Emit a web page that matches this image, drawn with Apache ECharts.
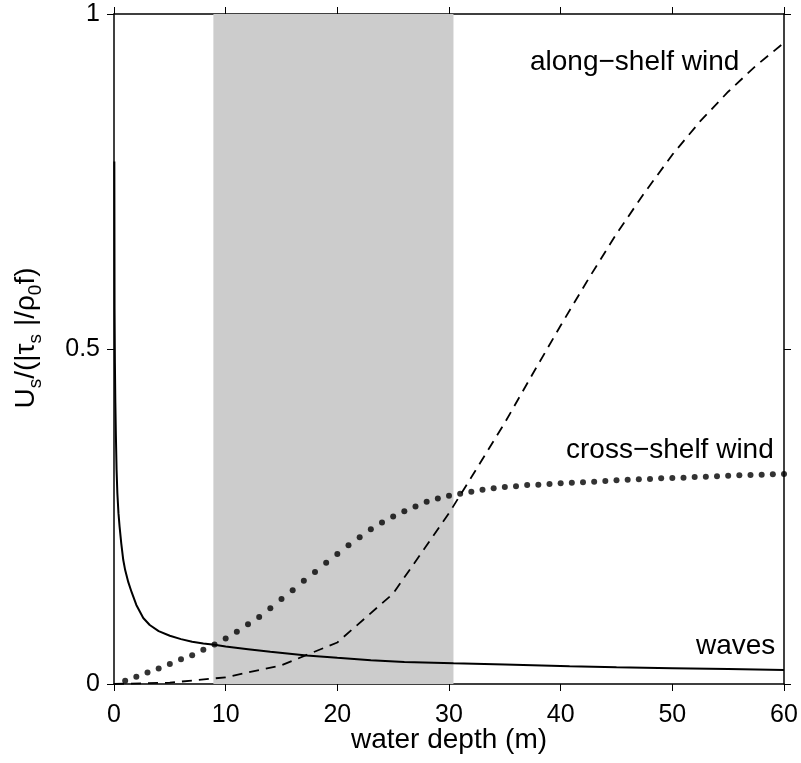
<!DOCTYPE html>
<html>
<head>
<meta charset="utf-8">
<script src="https://cdn.jsdelivr.net/npm/echarts@6/dist/echarts.min.js"></script>
<style>
html,body{margin:0;padding:0;background:#fff;}
#c{width:801px;height:763px;}
</style>
</head>
<body>
<div id="c"></div>
<script>
// ---- data ----
var xTicks = [0, 10, 20, 30, 40, 50, 60];
var yTicks = [0, 0.5, 1];
var shadeRange = [8.9, 30.4];

var wavesX = [0.03, 0.05, 0.08, 0.12, 0.17, 0.23, 0.3, 0.4, 0.5, 0.65, 0.83, 1.0, 1.28, 1.58, 2.0, 2.62, 3.2, 4.0, 5.0, 6.0, 7.0, 8.0, 9.0, 10, 12, 14, 17.25, 20, 23, 26, 30.4, 35, 40.8, 45, 50, 55, 60];
var wavesY = [0.78, 0.56, 0.48, 0.42, 0.37, 0.32, 0.285, 0.255, 0.235, 0.21, 0.185, 0.17, 0.152, 0.137, 0.118, 0.0985, 0.088, 0.079, 0.072, 0.067, 0.063, 0.0605, 0.0585, 0.056, 0.052, 0.048, 0.0425, 0.039, 0.0355, 0.033, 0.031, 0.0292, 0.0265, 0.025, 0.0236, 0.0223, 0.021];

var alongX = [0, 5, 10, 15, 20, 25, 30, 32.5, 35, 37.5, 40, 42.5, 45, 47.5, 50, 52.5, 55, 57.5, 60];
var alongY = [0, 0.002, 0.01, 0.028, 0.062, 0.135, 0.255, 0.322, 0.39, 0.463, 0.535, 0.605, 0.672, 0.733, 0.79, 0.84, 0.884, 0.923, 0.957];

var crossX = [1,2,3,4,5,6,7,8,9,10,11,12,13,14,15,16,17,18,19,20,21,22,23,24,25,26,27,28,29,30,31,32,33,34,35,36,37,38,39,40,41,42,43,44,45,46,47,48,49,50,51,52,53,54,55,56,57,58,59,60];
var crossY = [0.005,0.011,0.017,0.023,0.030,0.037,0.043,0.051,0.059,0.068,0.078,0.089,0.100,0.113,0.127,0.140,0.154,0.167,0.181,0.194,0.207,0.219,0.231,0.241,0.250,0.258,0.265,0.272,0.277,0.281,0.284,0.287,0.290,0.292,0.294,0.295,0.297,0.2975,0.2985,0.2996,0.3005,0.301,0.302,0.303,0.304,0.305,0.3055,0.306,0.307,0.3075,0.308,0.309,0.3095,0.310,0.311,0.3115,0.312,0.3125,0.313,0.3135];

var labels = {
  along: 'along\u2212shelf wind',
  cross: 'cross\u2212shelf wind',
  waves: 'waves',
  xName: 'water depth (m)'
};

function zip(a, b) { return a.map(function (v, i) { return [v, b[i]]; }); }

var FONT = '"Liberation Sans", Arial, Helvetica, sans-serif';
var axisLine = { show: true, onZero: false, lineStyle: { color: '#000', width: 1.5 } };
var axisTick = { show: true, inside: false, length: 7, lineStyle: { color: '#000', width: 1 } };

var chart = echarts.init(document.getElementById('c'), null, { renderer: 'canvas' });
chart.setOption({
  animation: false,
  backgroundColor: '#fff',
  grid: { left: 114, right: 17, top: 14, bottom: 79, containLabel: false },
  xAxis: [
    {
      type: 'value', position: 'bottom', min: xTicks[0], max: xTicks[xTicks.length - 1], interval: 10,
      axisLine: axisLine, axisTick: axisTick, splitLine: { show: false },
      axisLabel: { fontSize: 25, color: '#000', fontFamily: FONT, margin: 19 }
    },
    {
      type: 'value', position: 'top', min: xTicks[0], max: xTicks[xTicks.length - 1], interval: 10,
      axisLine: axisLine, axisTick: axisTick, splitLine: { show: false },
      axisLabel: { show: false }
    }
  ],
  yAxis: [
    {
      type: 'value', position: 'left', min: yTicks[0], max: yTicks[yTicks.length - 1], interval: 0.5,
      axisLine: axisLine, axisTick: axisTick, splitLine: { show: false },
      axisLabel: { fontSize: 25, color: '#000', fontFamily: FONT, margin: 14 }
    },
    {
      type: 'value', position: 'right', min: yTicks[0], max: yTicks[yTicks.length - 1], interval: 0.5,
      axisLine: axisLine, axisTick: axisTick, splitLine: { show: false },
      axisLabel: { show: false }
    }
  ],
  series: [
    {
      type: 'line', data: [], z: 1, silent: true,
      markArea: {
        silent: true,
        itemStyle: { color: '#cccccc', borderWidth: 0 },
        data: [[{ xAxis: shadeRange[0] }, { xAxis: shadeRange[1] }]]
      }
    },
    {
      name: 'waves', type: 'line', data: zip(wavesX, wavesY), showSymbol: false, smooth: false, z: 3,
      lineStyle: { color: '#000', width: 2 }
    },
    {
      name: 'along', type: 'line', data: zip(alongX, alongY), showSymbol: false, z: 3,
      lineStyle: { color: '#000', width: 1.8, type: [10, 7] }
    },
    {
      name: 'cross', type: 'scatter', data: zip(crossX, crossY), symbolSize: 6, z: 4,
      itemStyle: { color: '#000' }
    }
  ],
  graphic: [
    { type: 'text', left: 530, top: 48, style: { text: labels.along, font: '28px ' + FONT, fill: '#000' } },
    { type: 'text', left: 566, top: 436, style: { text: labels.cross, font: '28px ' + FONT, fill: '#000' } },
    { type: 'text', left: 696, top: 632, style: { text: labels.waves, font: '28px ' + FONT, fill: '#000' } },
    {
      type: 'text', x: 449, y: 740,
      style: { text: labels.xName, font: '28px ' + FONT, fill: '#000', align: 'center', verticalAlign: 'middle' }
    },
    {
      type: 'text', x: 26, y: 338, rotation: Math.PI / 2,
      style: {
        text: '{n|U}{s|s}{n|/(|\u03c4}{s|s}{n| |/\u03c1}{s|0}{n|f)}',
        align: 'center', verticalAlign: 'middle', fill: '#000',
        rich: {
          n: { fontSize: 28, fontFamily: FONT, lineHeight: 38, verticalAlign: 'middle', fill: '#000' },
          s: { fontSize: 19, fontFamily: FONT, lineHeight: 19, verticalAlign: 'bottom', fill: '#000' }
        }
      }
    }
  ]
});
</script>
</body>
</html>
